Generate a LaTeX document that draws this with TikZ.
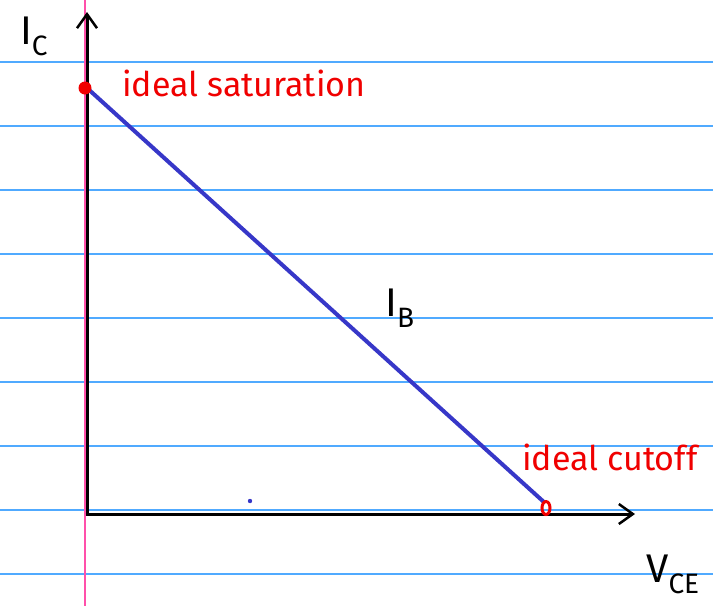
\documentclass[tikz,border=0pt]{standalone}
\usepackage{fontspec}
\setmainfont{Fira Sans}
\usetikzlibrary{arrows.meta}
\definecolor{rule}{RGB}{80,170,255}
\definecolor{margin}{RGB}{255,80,170}
\definecolor{loadline}{RGB}{55,55,200}
\definecolor{hand}{RGB}{240,0,0}
\begin{document}
\begin{tikzpicture}[x=1pt,y=-1pt,
  ruleline/.style={draw=rule,line width=1.2pt},
  axisline/.style={draw=black,line width=3pt,-{Straight Barb[length=14pt,width=20pt,line width=2.5pt]}},
  redlabel/.style={text=hand,font=\fontsize{34}{34}\selectfont,inner sep=0pt,anchor=base west},
  blacklabel/.style={text=black,font=\fontsize{40}{40}\selectfont,inner sep=0pt}]
\useasboundingbox (0,0) rectangle (713,606);
\fill[white] (0,0) rectangle (713,606);
\foreach \yy in {62,126,190,254,318,382,446,510,574}
  \draw[ruleline] (0,\yy) -- (713,\yy);
\draw[draw=margin,line width=1.5pt] (85,0) -- (85,606);
\coordinate (origin) at (87,514);
\coordinate (ytip) at (87,12);
\coordinate (xtip) at (635,514);
\coordinate (sat) at (87,88);
\coordinate (cut) at (545,503);
\draw[axisline] (87,515.5) -- (ytip);
\draw[axisline] (85.5,514) -- (xtip);
\draw[draw=loadline,line width=4pt] (sat) -- (cut);
\fill[hand] (85,88) circle (6.5);
\draw[hand,line width=3pt] (546,508) ellipse (4 and 6.5);
\fill[loadline] (250,501) circle (2.2);
\node[blacklabel] (ic) at (34,36) {I\textsubscript{C}};
\node[blacklabel] (ib) at (400,308) {I\textsubscript{B}};
\node[blacklabel] (vce) at (673,574) {V\textsubscript{CE}};
\node[redlabel] (satlabel) at (122,96) {ideal saturation};
\node[redlabel] (cutlabel) at (522,470) {ideal cutoff};
\end{tikzpicture}
\end{document}
